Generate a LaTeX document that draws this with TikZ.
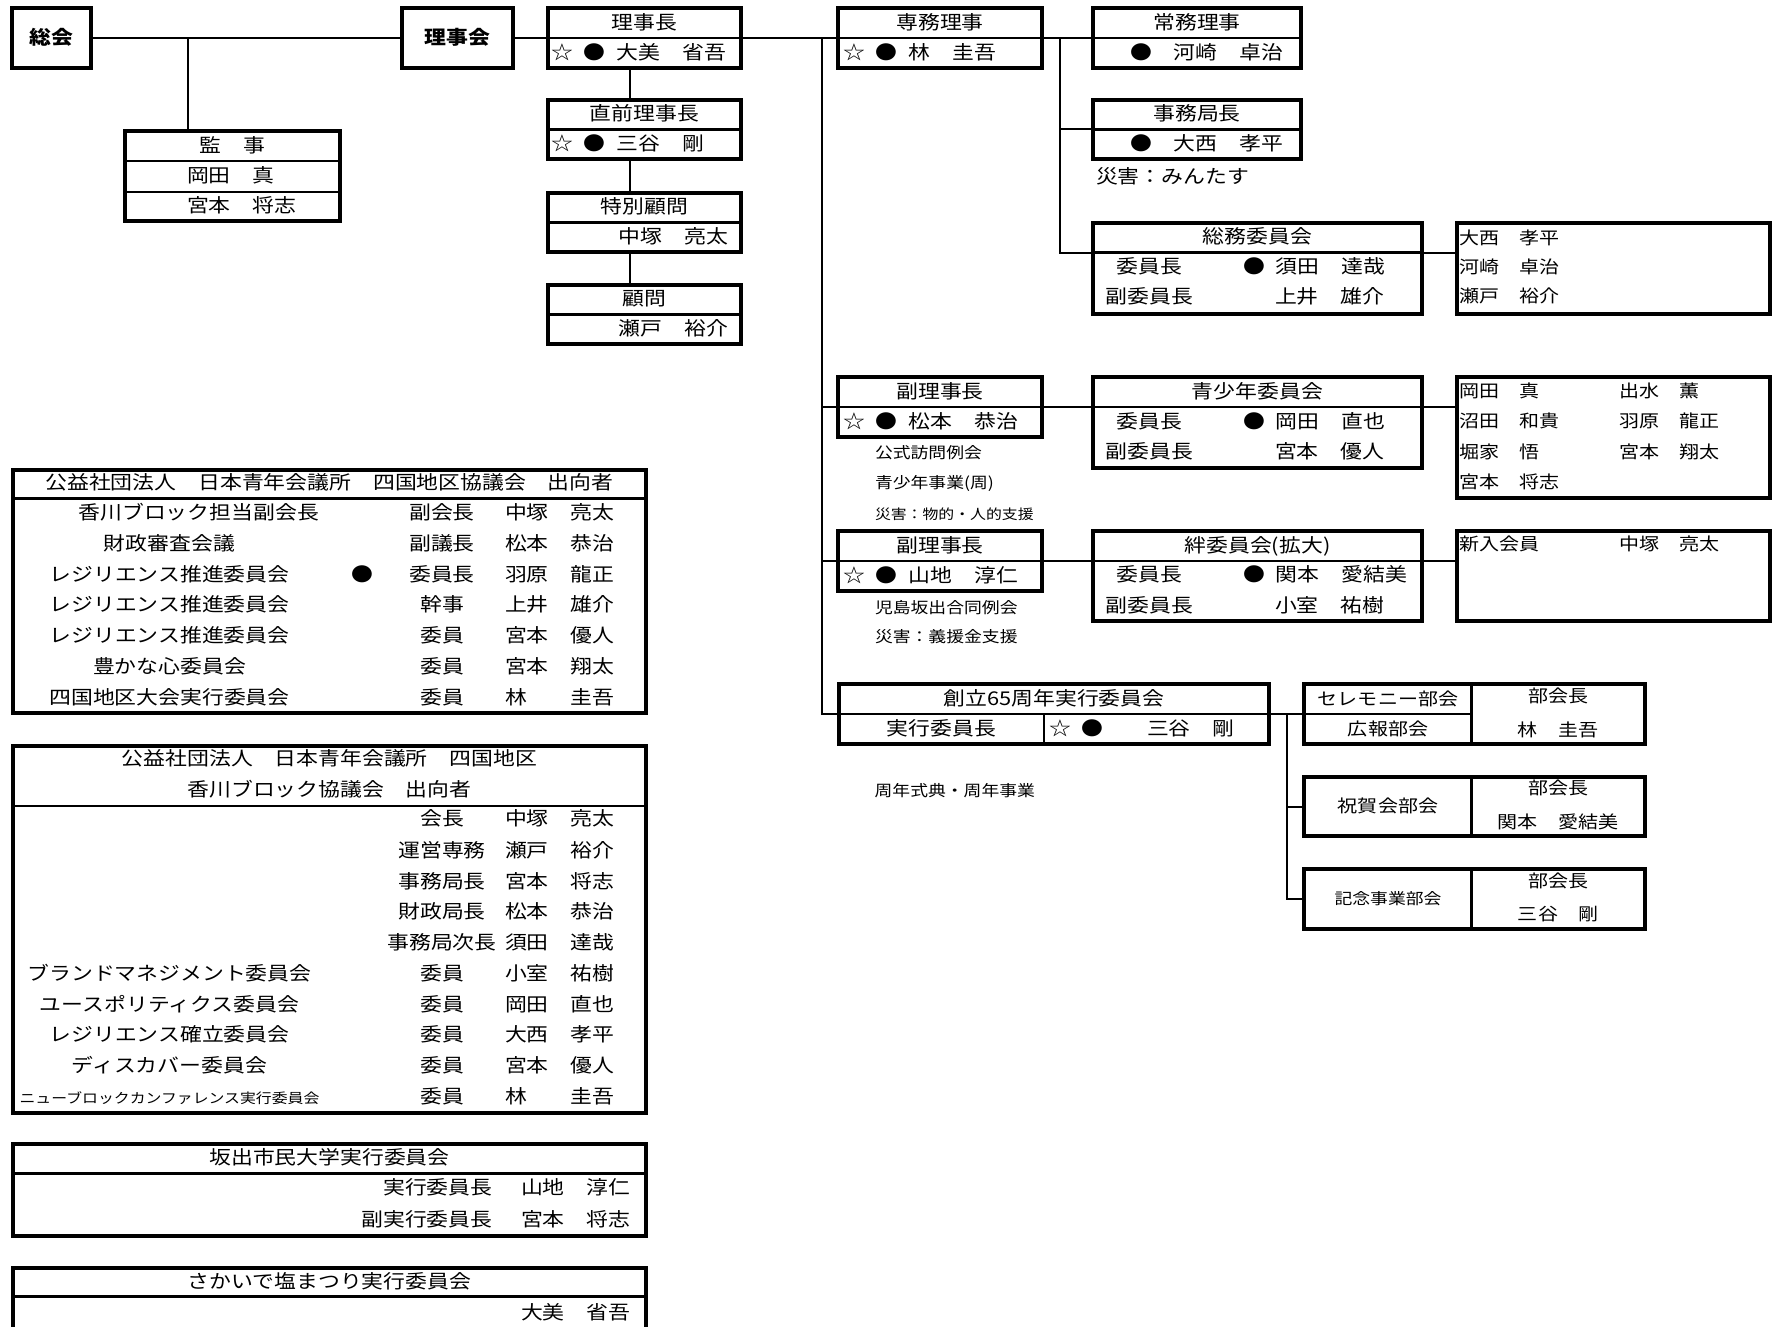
\documentclass[tikz,border=0pt]{standalone}
\usepackage{fontspec}
\setmainfont{Noto Sans CJK JP}[FakeStretch=1.15]
\newlength\px \setlength\px{0.5pt}
\newcommand\fnmain{\fontsize{9.5pt}{11pt}\selectfont}
\newcommand\fnmid{\fontsize{8.7pt}{10pt}\selectfont}
\newcommand\fnsmall{\fontsize{7.75pt}{9pt}\selectfont}
\newcommand\fntiny{\fontsize{6.9pt}{8pt}\selectfont}
\newcommand\hs{\hspace{11\px}}
\tikzset{
 boxst/.style={draw, line width=1.75pt, inner sep=0pt, outer sep=0pt, rectangle},
 divst/.style={line width=1.4pt},
 conn/.style={line width=1pt},
 txt/.style={inner sep=0pt, outer sep=0pt, text height=0.82em, text depth=0.18em, font=\fnmain},
 txtm/.style={txt, font=\fnmid},
 txts/.style={txt, font=\fnsmall},
 txtt/.style={txt, font=\fntiny},
}
\newcommand\bx[5]{\node[boxst, anchor=north west, minimum width={(#4-#2)*\px}, minimum height={(#5-#3)*\px}] (#1) at (#2,#3) {};}
\newcommand\hdiv[2]{\coordinate (tmpy) at (0,#2); \draw[divst] (#1.west |- tmpy) -- (#1.east |- tmpy);}
\newcommand\trow[6]{%
  \node[txt] (#1a) at (#3,#2) {#4};
  \node[txt] (#1b) at (442,#2) {#5};
  \node[txt,anchor=west] (#1c) at (505,#2) {#6};}
\newcommand\trowb[4]{%
  \node[txt] (#1b) at (442,#2) {#3};
  \node[txt,anchor=west] (#1c) at (505,#2) {#4};}
\begin{document}
\begin{tikzpicture}[x=0.5pt,y=-0.5pt]
\useasboundingbox (0,0) rectangle (1773,1327);
\fill[white] (0,0) rectangle (1773,1327);
\clip (0,0) rectangle (1773,1327);

% ---------- boxes ----------
\bx{sokai}{12}{8}{91}{68}
\bx{kanji}{125}{131}{340}{221}
\bx{rijikai}{402}{8}{513}{68}
\bx{rijicho}{548}{8}{741}{68}
\bx{chokuzen}{548}{100}{741}{159}
\bx{tokubetsu}{548}{193}{741}{252}
\bx{komon}{548}{285}{741}{344}
\bx{senmu}{838}{8}{1042}{68}
\bx{jomu}{1093}{8}{1301}{68}
\bx{jimukyoku}{1093}{100}{1301}{159}
\bx{somu}{1093}{223}{1422}{314}
\bx{somumem}{1457}{223}{1770}{314}
\bx{fuku1}{838}{377}{1042}{437}
\bx{seisho}{1093}{377}{1422}{468}
\bx{seishomem}{1457}{377}{1770}{498}
\bx{fuku2}{838}{531}{1042}{591}
\bx{kizuna}{1093}{531}{1422}{621}
\bx{shinnyu}{1457}{531}{1770}{621}
\bx{soritsu}{839}{684}{1269}{744}
\bx{cer}{1304}{684}{1645}{744}
\bx{shukuga}{1304}{777}{1645}{836}
\bx{kinen}{1304}{869}{1645}{929}
\bx{tab1}{13}{470}{646}{713}
\bx{tab2}{13}{746}{646}{1113}
\bx{tab3}{13}{1144}{646}{1236}
\bx{tab4}{13}{1268}{646}{1360}

% ---------- dividers ----------
\hdiv{kanji}{161}
\hdiv{kanji}{192}
\hdiv{rijicho}{38}
\hdiv{chokuzen}{129.5}
\hdiv{tokubetsu}{222.5}
\hdiv{komon}{314.5}
\hdiv{senmu}{38}
\hdiv{jomu}{38}
\hdiv{jimukyoku}{129.5}
\hdiv{somu}{252.5}
\hdiv{fuku1}{407}
\hdiv{seisho}{407}
\hdiv{fuku2}{561}
\hdiv{kizuna}{561}
\hdiv{soritsu}{714}
\hdiv{tab1}{498.3}
\hdiv{tab2}{806}
\hdiv{tab3}{1173.3}
\hdiv{tab4}{1296.7}
\coordinate (sx1) at (1044,0);
\draw[divst] (sx1 |- soritsu.center) -- (sx1 |- soritsu.south);
\coordinate (sx2) at (1471.6,0);
\draw[divst] (sx2 |- cer.north) -- (sx2 |- cer.south);
\draw[divst] (cer.west) -- (sx2 |- cer.west);
\draw[divst] (sx2 |- shukuga.north) -- (sx2 |- shukuga.south);
\draw[divst] (sx2 |- kinen.north) -- (sx2 |- kinen.south);

% ---------- connectors ----------
\coordinate (j1) at (188,38);
\draw[conn] (sokai.east) -- (rijikai.west);
\draw[conn] (j1) -- (j1 |- kanji.north);
\draw[conn] (rijikai.east) -- (rijicho.west);
\draw[conn] (rijicho.east) -- (senmu.west);
\draw[conn] (senmu.east) -- (jomu.west);
\coordinate (v1) at (630,0);
\draw[conn] (v1 |- rijicho.south) -- (v1 |- chokuzen.north);
\draw[conn] (v1 |- chokuzen.south) -- (v1 |- tokubetsu.north);
\draw[conn] (v1 |- tokubetsu.south) -- (v1 |- komon.north);
\coordinate (trunk) at (822,38);
\draw[conn] (trunk) -- (trunk |- soritsu.west) -- (soritsu.west);
\draw[conn] (trunk |- fuku1.west) -- (fuku1.west);
\draw[conn] (trunk |- fuku2.west) -- (fuku2.west);
\coordinate (j2) at (1059.5,38);
\coordinate (ysomu) at (0,252.5);
\draw[conn] (j2) -- (j2 |- ysomu) -- (somu.west |- ysomu);
\draw[conn] (j2 |- jimukyoku.west) -- (jimukyoku.west);
\draw[conn] (somu.east |- ysomu) -- (somumem.west |- ysomu);
\draw[conn] (fuku1.east) -- (seisho.west |- fuku1.east);
\draw[conn] (seisho.east |- fuku1.east) -- (seishomem.west |- fuku1.east);
\draw[conn] (fuku2.east) -- (kizuna.west |- fuku2.east);
\draw[conn] (kizuna.east |- fuku2.east) -- (shinnyu.west |- fuku2.east);
\draw[conn] (soritsu.east) -- (cer.west);
\coordinate (j3) at (1287,714);
\draw[conn] (j3) -- (j3 |- kinen.west) -- (kinen.west);
\draw[conn] (j3 |- shukuga.west) -- (shukuga.west);

% ---------- texts: top left ----------
\node[txt] (tSokai) at (sokai.center) {\bfseries 総会};
\node[txt] (tRijikai) at (rijikai.center) {\bfseries 理事会};
\node[txt] (tKan1) at (232.5,146) {監　事};
\node[txt,anchor=west] (tKan2) at (187,176.5) {岡田　真};
\node[txt,anchor=west] (tKan3) at (187,206.5) {宮本　将志};
\node[txt] (tRc1) at (644.5,23) {理事長};
\node[txt,anchor=west] (tRc2) at (551,53) {☆\hs{}●\hs{}大美　省吾};
\node[txt] (tCz1) at (644.5,114.5) {直前理事長};
\node[txt,anchor=west] (tCz2) at (551,144.5) {☆\hs{}●\hs{}三谷　剛};
\node[txt] (tTk1) at (644.5,207.5) {特別顧問};
\node[txt,anchor=east] (tTk2) at (728,237.5) {中塚　亮太};
\node[txt] (tKm1) at (644.5,299.5) {顧問};
\node[txt,anchor=east] (tKm2) at (728,329.5) {瀬戸　裕介};

% ---------- texts: right ----------
\node[txt] (tSm1) at (940,23) {専務理事};
\node[txt,anchor=west] (tSm2) at (843,53) {☆\hs{}●\hs{}林　圭吾};
\node[txt] (tJo1) at (1197,23) {常務理事};
\node[txt,anchor=west] (tJo2) at (1130,53) {●　河崎　卓治};
\node[txt] (tJk1) at (1197,114.5) {事務局長};
\node[txt,anchor=west] (tJk2) at (1130,144.5) {●　大西　孝平};
\node[txt,anchor=west] (tJk3) at (1096,177) {災害：みんたす};
\node[txt] (tSo1) at (1257.5,237.5) {総務委員会};
\node[txt] (tSo2) at (1149.5,267) {委員長};
\node[txt] (tSo3) at (1149.5,297.5) {副委員長};
\node[txt,anchor=west] (tSo4) at (1243,267) {●\hs{}須田　達哉};
\node[txt,anchor=west] (tSo5) at (1275,297.5) {上井　雄介};
\node[txtm,anchor=west] (tSm1a) at (1459,237.7) {大西　孝平};
\node[txtm,anchor=west] (tSm1b) at (1459,266.7) {河崎　卓治};
\node[txtm,anchor=west] (tSm1c) at (1459,295.7) {瀬戸　裕介};

\node[txt] (tF11) at (940,392) {副理事長};
\node[txt,anchor=west] (tF12) at (843,422) {☆\hs{}●\hs{}松本　恭治};
\node[txts,anchor=west] (tF13) at (875,451.7) {公式訪問例会};
\node[txts,anchor=west] (tF14) at (875,481.7) {青少年事業(周)};
\node[txtt,anchor=west] (tF15) at (875,513.3) {災害：物的・人的支援};
\node[txt] (tSe1) at (1257.5,392) {青少年委員会};
\node[txt] (tSe2) at (1149.5,421.7) {委員長};
\node[txt] (tSe3) at (1149.5,451.7) {副委員長};
\node[txt,anchor=west] (tSe4) at (1243,421.7) {●\hs{}岡田　直也};
\node[txt,anchor=west] (tSe5) at (1275,451.7) {宮本　優人};
\node[txtm,anchor=west] (tSeA) at (1459,390.7) {岡田　真};
\node[txtm,anchor=west] (tSeB) at (1459,421) {沼田　和貴};
\node[txtm,anchor=west] (tSeC) at (1459,451.7) {堀家　悟};
\node[txtm,anchor=west] (tSeD) at (1459,481.7) {宮本　将志};
\node[txtm,anchor=west] (tSeE) at (1619,390.7) {出水　薫};
\node[txtm,anchor=west] (tSeF) at (1619,421) {羽原　龍正};
\node[txtm,anchor=west] (tSeG) at (1619,451.7) {宮本　翔太};

\node[txt] (tF21) at (940,546) {副理事長};
\node[txt,anchor=west] (tF22) at (843,576) {☆\hs{}●\hs{}山地　淳仁};
\node[txts,anchor=west] (tF23) at (875,606.7) {児島坂出合同例会};
\node[txts,anchor=west] (tF24) at (875,636) {災害：義援金支援};
\node[txt] (tKz1) at (1257.5,546) {絆委員会(拡大)};
\node[txt] (tKz2) at (1149.5,575) {委員長};
\node[txt] (tKz3) at (1149.5,606) {副委員長};
\node[txt,anchor=west] (tKz4) at (1243,575) {●\hs{}関本　愛結美};
\node[txt,anchor=west] (tKz5) at (1275,606) {小室　祐樹};
\node[txtm,anchor=west] (tSn1) at (1459,544.3) {新入会員};
\node[txtm,anchor=west] (tSn2) at (1619,544.3) {中塚　亮太};

\node[txt] (tSr1) at (1054,699) {創立65周年実行委員会};
\node[txt] (tSr2) at (941.5,729) {実行委員長};
\node[txt,anchor=west] (tSr3) at (1049,729) {☆\hs{}●};
\node[txt,anchor=west] (tSr4) at (1147,729) {三谷　剛};
\node[txts,anchor=west] (tSr5) at (874.6,790) {周年式典・周年事業};
\node[txtm] (tCe1) at (1388,699) {セレモニー部会};
\node[txtm] (tCe2) at (1388,729) {広報部会};
\node[txtm] (tCe3) at (1558,696) {部会長};
\node[txtm] (tCe4) at (1558,730) {林　圭吾};
\node[txtm] (tSh1) at (1388,806.5) {祝賀会部会};
\node[txtm] (tSh2) at (1558,788.3) {部会長};
\node[txtm] (tSh3) at (1558,821.7) {関本　愛結美};
\node[txts] (tKn1) at (1388,898) {記念事業部会};
\node[txtm] (tKn2) at (1558,880.7) {部会長};
\node[txtm] (tKn3) at (1558,914) {三谷　剛};

% ---------- tables ----------
\node[txt] (tT1) at (329.5,483.3) {公益社団法人　日本青年会議所　四国地区協議会　出向者};
\trow{ra1}{513.3}{198.7}{香川ブロック担当副会長}{副会長}{中塚　亮太}
\trow{ra2}{544.3}{169.5}{財政審査会議}{副議長}{松本　恭治}
\trow{ra3}{575}{169.5}{レジリエンス推進委員会}{委員長}{羽原　龍正}
\node[txt] (ra3d) at (362.8,575) {●};
\trow{ra4}{605.5}{169.5}{レジリエンス推進委員会}{幹事}{上井　雄介}
\trow{ra5}{636}{169.5}{レジリエンス推進委員会}{委員}{宮本　優人}
\trow{ra6}{666.7}{169.5}{豊かな心委員会}{委員}{宮本　翔太}
\trow{ra7}{698}{169.5}{四国地区大会実行委員会}{委員}{林　　圭吾}

\node[txt] (tT2a) at (329.5,759.3) {公益社団法人　日本青年会議所　四国地区};
\node[txt] (tT2b) at (329.5,790) {香川ブロック協議会　出向者};
\trowb{rb1}{819.3}{会長}{中塚　亮太}
\trowb{rb2}{850.7}{運営専務}{瀬戸　裕介}
\trowb{rb3}{881.7}{事務局長}{宮本　将志}
\trowb{rb4}{911.7}{財政局長}{松本　恭治}
\trowb{rb5}{943.3}{事務局次長}{須田　達哉}
\trow{rb6}{974.3}{169.5}{ブランドマネジメント委員会}{委員}{小室　祐樹}
\trow{rb7}{1005}{169.5}{ユースポリティクス委員会}{委員}{岡田　直也}
\trow{rb8}{1035}{169.5}{レジリエンス確立委員会}{委員}{大西　孝平}
\trow{rb9}{1065.7}{169.5}{ディスカバー委員会}{委員}{宮本　優人}
\trow{rb10}{1096.7}{169.5}{\fntiny ニューブロックカンファレンス実行委員会}{委員}{林　　圭吾}

\node[txt] (tT3) at (329.5,1158.3) {坂出市民大学実行委員会};
\node[txt,anchor=east] (tT3a) at (492.4,1188.3) {実行委員長};
\node[txt,anchor=west] (tT3b) at (521,1188.3) {山地　淳仁};
\node[txt,anchor=east] (tT3c) at (492.4,1220) {副実行委員長};
\node[txt,anchor=west] (tT3d) at (521,1220) {宮本　将志};

\node[txt] (tT4) at (329.5,1281.7) {さかいで塩まつり実行委員会};
\node[txt,anchor=west] (tT4a) at (521,1312.7) {大美　省吾};
\end{tikzpicture}
\end{document}
